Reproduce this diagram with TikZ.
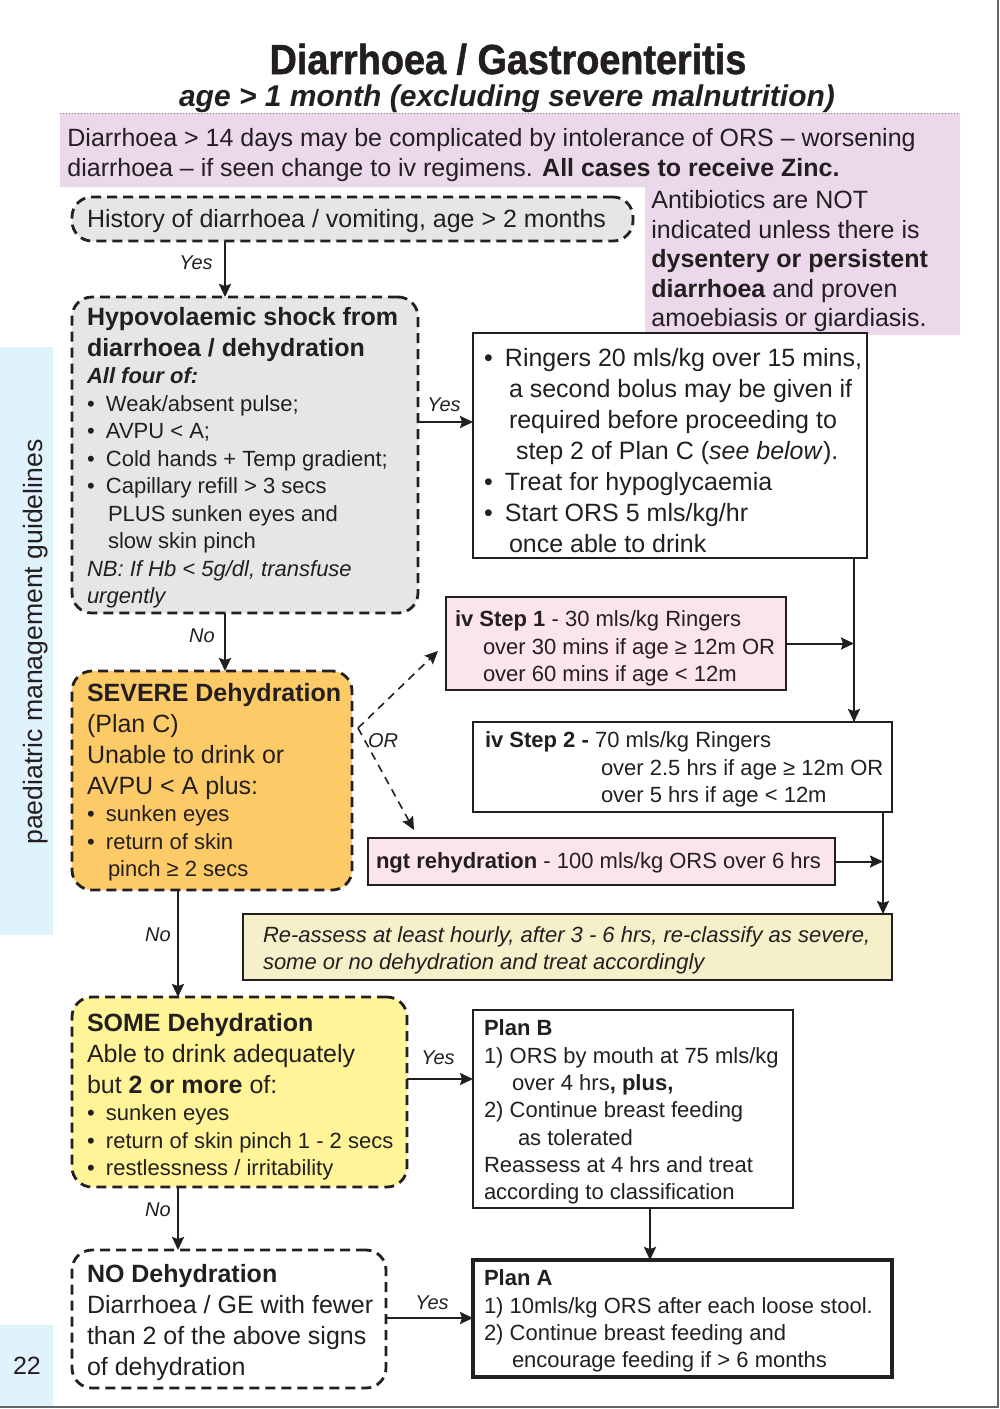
\documentclass[tikz,border=0pt]{standalone}
\usepackage{fontspec}
\setmainfont{Liberation Sans}
\newfontfamily\titlefont[FakeStretch=0.9,FakeBold=1.2]{Liberation Sans}
\usetikzlibrary{arrows.meta}

\definecolor{ink}{RGB}{35,31,32}
\definecolor{lav}{RGB}{235,216,235}
\definecolor{shockgrey}{RGB}{230,230,230}
\definecolor{sevorange}{RGB}{253,202,104}
\definecolor{someyellow}{RGB}{255,245,152}
\definecolor{ivpink}{RGB}{252,228,238}
\definecolor{cream}{RGB}{245,240,202}
\definecolor{tabblue}{RGB}{224,242,252}

\newcommand\fbig{\fontsize{12.5}{15.5}\selectfont}
\newcommand\fsml{\fontsize{11}{13.75}\selectfont}
\newcommand\bul[1][9.5pt]{\makebox[#1][l]{•}}
% box content: width, height, left pad, top pad, text
\newcommand\cell[5]{\parbox[c][#2][t]{#1}{\vspace*{#4}\hspace*{#3}\parbox[t]{#1}{\raggedright #5}}}

\tikzset{
  every node/.style={text=ink},
  box/.style={anchor=north west, inner sep=0pt, outer sep=0pt},
  dbox/.style={box, draw=ink, line width=1.4pt, dash pattern=on 5pt off 3pt, rounded corners=10pt},
  sbox/.style={box, draw=ink, line width=1.1pt},
  arr/.style={draw=ink, line width=1pt, -{Stealth[length=6.5pt,width=6pt,inset=1pt]}},
  darr/.style={arr, line width=0.8pt, dash pattern=on 4pt off 3pt},
  lab/.style={font=\fontsize{10}{12}\selectfont\itshape, inner sep=0pt},
}

\begin{document}
\begin{tikzpicture}[x=0.5pt,y=-0.5pt]
\useasboundingbox (0,0) rectangle (1000,1409);

% page frame
\draw[gray!80!black, line width=0.8pt] (998,0) -- (998,1407) -- (0,1407);

% side tabs
\fill[tabblue] (0,347) rectangle (53,935);
\fill[tabblue] (0,1325) rectangle (53,1406);
\node[rotate=90, inner sep=0pt] (sidetext) at (36,642) {\fontsize{13.3}{16}\selectfont paediatric management guidelines};
\node[inner sep=0pt] (pageno) at (27,1366) {\fbig 22};

% headings
\node[anchor=base, inner sep=0pt] (title) at (508,74) {\titlefont\bfseries\fontsize{21}{25}\selectfont Diarrhoea / Gastroenteritis};
\node[anchor=base, inner sep=0pt] (subtitle) at (507,106) {\bfseries\itshape\fontsize{15}{18}\selectfont age > 1 month (excluding severe malnutrition)};

% notes panel
\fill[lav] (60,113) -- (960,113) -- (960,335) -- (645,335) -- (645,187) -- (60,187) -- cycle;
\draw[gray, line width=0.5pt, densely dotted] (60,113) -- (960,113);
\node[anchor=north west, inner sep=0pt, align=left, font=\fontsize{12.5}{15}\selectfont] (zincnote) at (67,128)
  {Diarrhoea > 14 days may be complicated by intolerance of ORS – worsening\\
   diarrhoea – if seen change to iv regimens. \textbf{All cases to receive Zinc.}};
\node[anchor=north west, inner sep=0pt, align=left, font=\fontsize{12.5}{14.75}\selectfont] (abxnote) at (651,190)
  {Antibiotics are NOT\\ indicated unless there is\\ \textbf{dysentery or persistent}\\
   \textbf{diarrhoea} and proven\\ amoebiasis or giardiasis.};

% assessment boxes
\node[dbox, fill=shockgrey] (hist) at (72,197)
  {\cell{280.5pt}{22pt}{7.5pt}{6pt}{\fbig History of diarrhoea / vomiting, age > 2 months}};

\node[dbox, fill=shockgrey] (hypo) at (72,297)
  {\cell{173pt}{158pt}{7.5pt}{5pt}{%
    {\fbig\bfseries Hypovolaemic shock from\\ diarrhoea / dehydration\par}
    {\fsml\bfseries\itshape All four of:\par}
    \fsml\bul Weak/absent pulse;\\
    \bul AVPU < A;\\
    \bul Cold hands + Temp gradient;\\
    \bul Capillary refill > 3 secs\\
    \hspace*{10.5pt}PLUS sunken eyes and\\
    \hspace*{10.5pt}slow skin pinch\\
    \itshape NB: If Hb < 5g/dl, transfuse\\ urgently}};

\node[dbox, fill=sevorange] (severe) at (72,671)
  {\cell{140pt}{109.5pt}{7.5pt}{6pt}{%
    {\fbig\textbf{SEVERE Dehydration}\\ (Plan C)\\ Unable to drink or\\ AVPU < A plus:\par}
    \fsml\bul sunken eyes\\
    \bul return of skin\\
    \hspace*{10.5pt}pinch ≥ 2 secs}};

\node[dbox, fill=someyellow] (some) at (72,997)
  {\cell{167.5pt}{95pt}{7.5pt}{8pt}{%
    {\fbig\textbf{SOME Dehydration}\\ Able to drink adequately\\ but \textbf{2 or more} of:\par}
    \fsml\bul sunken eyes\\
    \bul return of skin pinch 1 - 2 secs\\
    \bul restlessness / irritability}};

\node[dbox, fill=white] (nodehyd) at (72,1250)
  {\cell{157pt}{69pt}{7.5pt}{7pt}{%
    \fbig\textbf{NO Dehydration}\\ Diarrhoea / GE with fewer\\ than 2 of the above signs\\ of dehydration}};

% treatment boxes
\node[sbox, fill=white] (ringers) at (473,333)
  {\cell{197pt}{112.5pt}{5.5pt}{7.5pt}{%
    \fbig\bul[10.5pt]Ringers 20 mls/kg over 15 mins,\\
    \hspace*{12.5pt}a second bolus may be given if\\
    \hspace*{12.5pt}required before proceeding to\\
    \hspace*{16pt}step 2 of Plan C (\textit{see below}).\\
    \bul[10.5pt]Treat for hypoglycaemia\\
    \bul[10.5pt]Start ORS 5 mls/kg/hr\\
    \hspace*{12.5pt}once able to drink}};

\node[sbox, fill=ivpink] (iv1) at (446,597)
  {\cell{170pt}{46.5pt}{4.5pt}{7pt}{%
    \fsml\textbf{iv Step 1} - 30 mls/kg Ringers\\
    \hspace*{14pt}over 30 mins if age ≥ 12m OR\\
    \hspace*{14pt}over 60 mins if age < 12m}};

\node[sbox, fill=white] (iv2) at (473,722)
  {\cell{209.5pt}{45pt}{6pt}{5pt}{%
    \fsml\textbf{iv Step 2 -} 70 mls/kg Ringers\\
    \hspace*{58pt}over 2.5 hrs if age ≥ 12m OR\\
    \hspace*{58pt}over 5 hrs if age < 12m}};

\node[sbox, fill=ivpink] (ngt) at (368,838)
  {\cell{233.5pt}{23.5pt}{4pt}{7.5pt}{%
    \fsml\textbf{ngt rehydration} - 100 mls/kg ORS over 6 hrs}};

\node[sbox, fill=cream, line width=1.3pt] (reassess) at (243,914)
  {\cell{324.5pt}{33pt}{10pt}{6.5pt}{%
    \fontsize{11}{13.5}\selectfont\itshape Re-assess at least hourly, after 3 - 6 hrs, re-classify as severe,\\
    some or no dehydration and treat accordingly}};

\node[sbox, fill=white] (planB) at (473,1010)
  {\cell{160pt}{99pt}{5.5pt}{5pt}{%
    \fontsize{11}{13.65}\selectfont\textbf{Plan B}\\
    1) ORS by mouth at 75 mls/kg\\
    \hspace*{14pt}over 4 hrs\textbf{, plus,}\\
    2) Continue breast feeding\\
    \hspace*{17pt}as tolerated\\
    Reassess at 4 hrs and treat\\
    according to classification}};

\node[sbox, fill=white, line width=1.8pt] (planA) at (473,1260)
  {\cell{209.5pt}{58.5pt}{5.5pt}{5pt}{%
    \fontsize{11}{13.65}\selectfont\textbf{Plan A}\\
    1) 10mls/kg ORS after each loose stool.\\
    2) Continue breast feeding and\\
    \hspace*{14pt}encourage feeding if > 6 months}};

% guide coordinates for connector positions
\coordinate (xmain) at (225,0);
\coordinate (xlow) at (178,0);
\coordinate (xivone) at (854,0);
\coordinate (xivtwo) at (883,0);
\coordinate (xplan) at (650,0);
\coordinate (yshock) at (0,422);
\coordinate (ysome) at (0,1079);
\coordinate (ynone) at (0,1318);
\coordinate (fork) at (358,728);
\coordinate (toiv) at (438,651);
\coordinate (tongt) at (414,830);

% connectors
\draw[arr] (hist.south -| xmain) -- (hypo.north -| xmain);
\draw[arr] (hypo.east |- yshock) -- (ringers.west |- yshock);
\draw[arr] (hypo.south -| xmain) -- (severe.north -| xmain);
\draw[draw=ink, line width=1pt] (ringers.south -| xivone) -- (iv2.north -| xivone);
\draw[arr] (ringers.south -| xivone) -- (iv2.north -| xivone);
\draw[arr] (iv1.east) -- (iv1.east -| xivone);
\draw[arr] (iv2.south -| xivtwo) -- (reassess.north -| xivtwo);
\draw[arr] (ngt.east) -- (ngt.east -| xivtwo);
\draw[darr] (fork) -- (toiv);
\draw[darr] (fork) -- (tongt);
\draw[arr] (severe.south -| xlow) -- (some.north -| xlow);
\draw[arr] (some.east |- ysome) -- (planB.west |- ysome);
\draw[arr] (planB.south -| xplan) -- (planA.north -| xplan);
\draw[arr] (some.south -| xlow) -- (nodehyd.north -| xlow);
\draw[arr] (nodehyd.east |- ynone) -- (planA.west |- ynone);

% connector labels
\node[lab] (yes1) at (196,263) {Yes};
\node[lab] (yes2) at (444,405) {Yes};
\node[lab] (no1) at (202,636) {No};
\node[lab] (orlab) at (383,741) {OR};
\node[lab] (no2) at (158,935) {No};
\node[lab] (yes3) at (438,1058) {Yes};
\node[lab] (no3) at (158,1210) {No};
\node[lab] (yes4) at (432,1303) {Yes};
\end{tikzpicture}
\end{document}
